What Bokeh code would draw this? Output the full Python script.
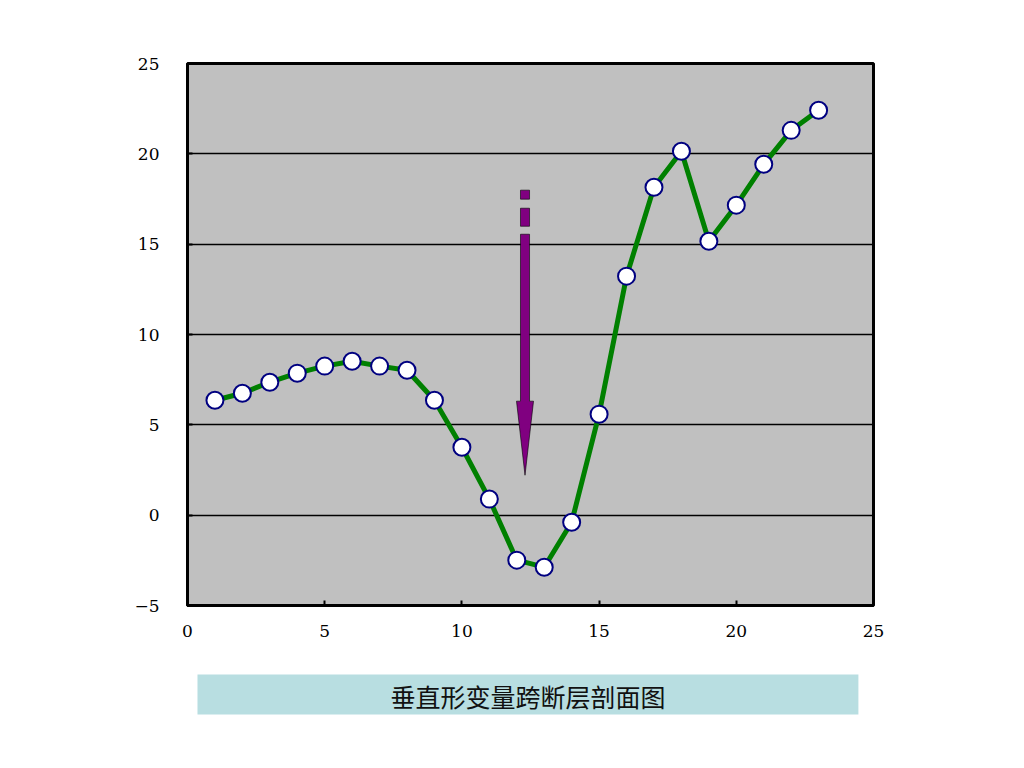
from bokeh.plotting import figure
from bokeh.layouts import column
from bokeh.models import Range1d, FixedTicker
from bokeh.core.properties import value
from bokeh.embed import file_html
from bokeh.resources import INLINE

# ---- data ----
x_vals = list(range(1, 24))
y_vals = [6.36, 6.75, 7.36, 7.86, 8.25, 8.52, 8.25, 8.02, 6.36, 3.76, 0.89,
          -2.49, -2.88, -0.39, 5.59, 13.23, 18.15, 20.14, 15.16, 17.16, 19.42,
          21.30, 22.41]
x_ticks = [0, 5, 10, 15, 20, 25]
y_ticks = [-5, 0, 5, 10, 15, 20, 25]
title_text = "垂直形变量跨断层剖面图"

# arrow annotation (data units)
arrow_x = 12.30
arrow_half_w = 0.165
arrow_head_half_w = 0.31
arrow_dashes = [(17.49, 17.99), (15.99, 16.99)]
arrow_shaft = (6.31, 15.55)
arrow_tip = 2.21

W = 1000
BL, BR = 187, 127
xr = Range1d(0, 25)
p = figure(width=W, height=650, x_range=xr, y_range=Range1d(-5, 25),
           output_backend="svg", toolbar_location=None,
           min_border_left=BL, min_border_right=BR, min_border_top=63,
           min_border_bottom=45)
p.background_fill_color = "#C0C0C0"
p.border_fill_color = "white"
p.outline_line_color = "black"
p.outline_line_width = 3

p.xgrid.grid_line_color = None
p.ygrid.grid_line_color = "black"
p.ygrid.grid_line_width = 1.5
p.ygrid.ticker = FixedTicker(ticks=y_ticks)

for ax in (p.xaxis[0], p.yaxis[0]):
    ax.axis_line_color = "black"
    ax.axis_line_width = 3
    ax.major_tick_in = 5
    ax.major_tick_out = 0
    ax.major_tick_line_width = 2
    ax.minor_tick_line_color = None
    ax.major_label_text_font = "DejaVu Serif"
    ax.major_label_text_font_size = "17px"
    ax.major_label_text_color = "black"
p.xaxis.ticker = FixedTicker(ticks=x_ticks)
p.yaxis.ticker = FixedTicker(ticks=y_ticks)
p.xaxis.major_label_standoff = 19
p.yaxis.major_label_standoff = 28

# arrow
for (b, t) in arrow_dashes:
    p.quad(left=[arrow_x - arrow_half_w], right=[arrow_x + arrow_half_w],
           bottom=[b], top=[t], fill_color="#800080", line_color="black", line_width=0.6)
p.patch([arrow_x - arrow_half_w, arrow_x - arrow_half_w, arrow_x - arrow_head_half_w,
         arrow_x, arrow_x + arrow_head_half_w, arrow_x + arrow_half_w, arrow_x + arrow_half_w],
        [arrow_shaft[1], arrow_shaft[0], arrow_shaft[0], arrow_tip, arrow_shaft[0],
         arrow_shaft[0], arrow_shaft[1]],
        fill_color="#800080", line_color="black", line_width=0.6)

# series
p.line(x_vals, y_vals, line_color="#008000", line_width=5)
p.scatter(x_vals, y_vals, size=17, fill_color="white", line_color="#000080", line_width=2)

# title box figure (shares x range, frame aligned with main plot)
p2 = figure(width=W, height=80, x_range=xr, y_range=Range1d(80, 0),
            output_backend="svg", toolbar_location=None,
            min_border_left=BL, min_border_right=BR, min_border_top=0, min_border_bottom=0)
p2.axis.visible = False
p2.grid.grid_line_color = None
p2.outline_line_color = None
p2.background_fill_color = "white"
p2.border_fill_color = "white"
p2.quad(left=[0.364], right=[24.45], top=[24], bottom=[64], fill_color="#B8DEE1", line_color=None)
p2.text(x=[12.41], y=[45], text=[title_text], text_align="center", text_baseline="middle",
        text_font=value("Noto Sans CJK SC"), text_font_size="25px", text_color="#111111")

open("out.html", "w").write(file_html(column(p, p2, spacing=0), INLINE))
